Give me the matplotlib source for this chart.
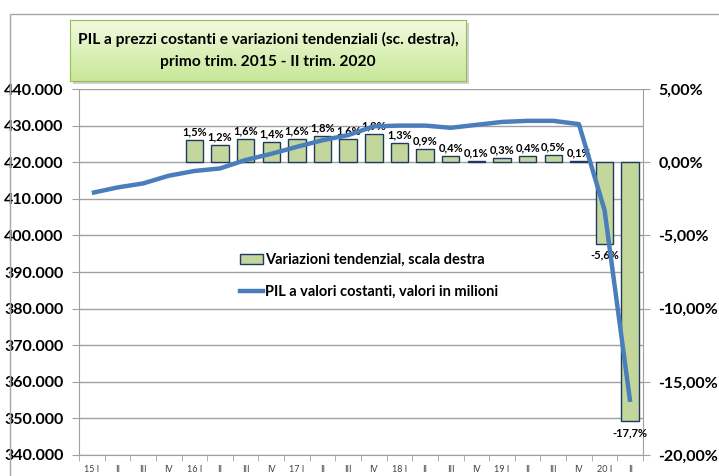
import numpy as np
import matplotlib
matplotlib.use("Agg")
import matplotlib.pyplot as plt
from matplotlib.ticker import MultipleLocator, FuncFormatter
from matplotlib.patches import Rectangle, Patch
from matplotlib.lines import Line2D

plt.rcParams['font.family'] = ['Lato', 'DejaVu Sans']

# quarters 2015 I - 2020 II
quarters = ["15 I", "II", "III", "IV", "16 I", "II", "III", "IV", "17 I", "II", "III", "IV",
            "18 I", "II", "III", "IV", "19 I", "II", "III", "IV", "20 I", "II"]
# PIL a valori costanti (milioni)
pil = [411.6, 413.1, 414.2, 416.3, 417.6, 418.3, 420.6, 422.3, 424.2, 426.0, 427.4, 429.8,
       430.0, 430.0, 429.4, 430.2, 431.0, 431.3, 431.3, 430.4, 406.9, 354.5]
# variazioni tendenziali (%), from 2016 I
var_quarters = list(range(4, 22))
var_pct = [1.5, 1.2, 1.6, 1.4, 1.6, 1.8, 1.6, 1.9, 1.3, 0.9, 0.4, 0.1,
           0.3, 0.4, 0.5, 0.1, -5.6, -17.7]

fig = plt.figure(figsize=(7.19, 4.76), dpi=100)

# outer chart border
fig.patches.append(Rectangle((10/719, -0.1), 1.2, 1 - 14/476 + 0.1, transform=fig.transFigure,
                             fill=False, edgecolor='#a6a6a6', lw=1.0))

ax = fig.add_axes([79/719, 1 - 455/476, (643 - 79)/719, (455 - 89)/476])
x = np.arange(len(quarters))

# bars on right scale
ax.bar(var_quarters, var_pct, width=0.68, color='#c3d69b', edgecolor='#1f3864', lw=1.0, zorder=2)
for q, v in zip(var_quarters, var_pct):
    lab = ("%.1f%%" % v).replace('.', ',')
    if v >= 0:
        ax.annotate(lab, (q, v), xytext=(0, 2), textcoords='offset points',
                    ha='center', va='bottom', fontsize=8, fontweight='bold')
    else:
        ax.annotate(lab, (q, v), xytext=(0, -4), textcoords='offset points',
                    ha='center', va='top', fontsize=8, fontweight='bold')

# line on left scale, drawn over bars
axl = ax.twinx()
axl.plot(x, pil, color='#4a7ebb', lw=3.2, solid_capstyle='butt', zorder=3)

ax.set_ylim(-20, 5)
ax.set_xlim(-0.5, len(quarters) - 0.5)
ax.yaxis.tick_right()
ax.yaxis.set_major_locator(MultipleLocator(5))
ax.yaxis.set_minor_locator(MultipleLocator(2.5))
ax.yaxis.set_major_formatter(FuncFormatter(lambda v, p: ("%.2f%%" % v).replace('.', ',')))
ax.grid(axis='y', which='both', color='#a0a0a0', lw=1.0, zorder=0)
ax.set_axisbelow(True)
ax.tick_params(axis='y', which='major', length=5, color='#a0a0a0', labelsize=11.5, pad=6)
ax.tick_params(axis='y', which='minor', length=0)
for t in ax.get_yticklabels():
    t.set_fontweight('bold')

ax.set_xticks(x)
ax.set_xticklabels(quarters)
ax.set_xticks(np.arange(-0.5, len(quarters)), minor=True)
ax.tick_params(axis='x', which='major', length=0, labelsize=6.5, labelcolor='#404040', pad=7)
ax.tick_params(axis='x', which='minor', length=4, color='#a0a0a0')
for s in ax.spines.values():
    s.set_color('#a0a0a0')
ax.spines['top'].set_visible(False)

axl.set_ylim(340, 440)
axl.yaxis.tick_left()
axl.yaxis.set_major_locator(MultipleLocator(10))
axl.yaxis.set_major_formatter(FuncFormatter(lambda v, p: "%d.000" % v))
axl.tick_params(axis='y', length=5, color='#a0a0a0', labelsize=11.5, pad=6)
for t in axl.get_yticklabels():
    t.set_fontweight('bold')
for s in axl.spines.values():
    s.set_visible(False)

handles = [Patch(facecolor='#c3d69b', edgecolor='#1f3864', lw=1.0),
           Line2D([0], [0], color='#4a7ebb', lw=3.2)]
labels = ["Variazioni tendenzial, scala destra", "PIL a valori costanti, valori in milioni"]
leg = axl.legend(handles, labels, loc='upper left', bbox_to_anchor=(234/719, 1 - 247/476),
                 bbox_transform=fig.transFigure, frameon=False, handlelength=1.6,
                 handletextpad=0.1, labelspacing=1.25, borderaxespad=0,
                 prop={'weight': 'bold', 'size': 10.5})

# title box
sh = fig.add_axes([73/719, 1 - 84/476, 396/719, 61/476])
sh.set_facecolor('#d0d0d0')
sh.set_xticks([]); sh.set_yticks([])
for s in sh.spines.values():
    s.set_visible(False)
tb = fig.add_axes([70/719, 1 - 81/476, 396/719, 61/476])
grad = np.linspace(0, 1, 100).reshape(-1, 1)
c1 = np.array([0.95, 0.98, 0.87])
c2 = np.array([0.78, 0.91, 0.60])
img = c1[None, None, :] * (1 - grad[:, :, None]) + c2[None, None, :] * grad[:, :, None]
tb.imshow(img, aspect='auto', extent=[0, 1, 0, 1])
tb.set_xticks([]); tb.set_yticks([])
for s in tb.spines.values():
    s.set_color('#9bbb59')
tb.text(0.5, 0.5, "PIL a prezzi costanti e variazioni tendenziali (sc. destra),\nprimo trim. 2015 - II trim. 2020",
        ha='center', va='center', fontsize=11.2, fontweight='bold', linespacing=1.75,
        transform=tb.transAxes)

fig.savefig("out.png", dpi=100)
